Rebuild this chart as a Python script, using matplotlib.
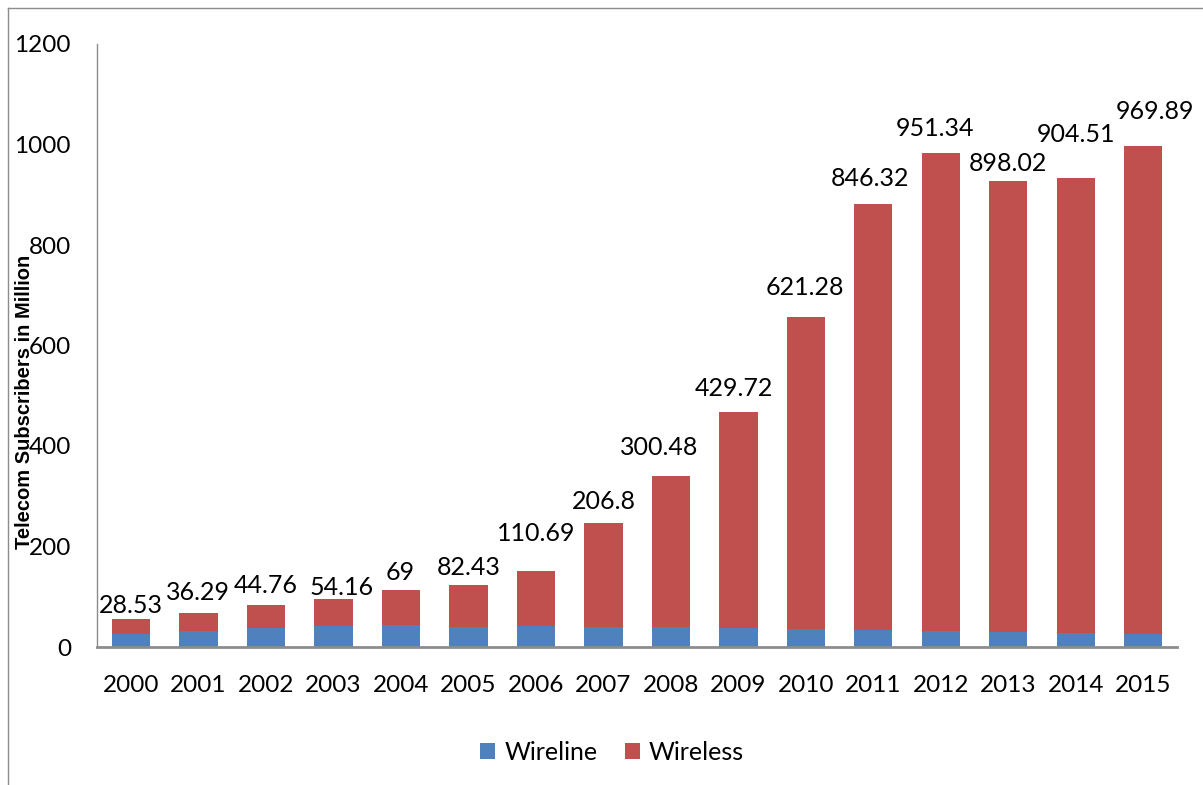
import matplotlib
matplotlib.use("Agg")
import matplotlib.pyplot as plt
from matplotlib.lines import Line2D

years = ["2000", "2001", "2002", "2003", "2004", "2005", "2006", "2007",
         "2008", "2009", "2010", "2011", "2012", "2013", "2014", "2015"]
wireline = [26.5, 32.0, 38.5, 41.0, 43.8, 40.5, 41.0, 40.2,
            39.0, 37.0, 35.8, 34.4, 32.0, 29.8, 28.0, 26.5]
wireless = [28.53, 36.29, 44.76, 54.16, 69, 82.43, 110.69, 206.8,
            300.48, 429.72, 621.28, 846.32, 951.34, 898.02, 904.51, 969.89]
wireless_labels = ["28.53", "36.29", "44.76", "54.16", "69", "82.43", "110.69", "206.8",
                   "300.48", "429.72", "621.28", "846.32", "951.34", "898.02", "904.51", "969.89"]
y_ticks = [0, 200, 400, 600, 800, 1000, 1200]

# hand-placed data label nudges (pixels: right, above bar top)
label_dx = [0, -1, 0, 8, -1, 0, 0, 0, -12, -4, -1, -3.5, -6, 0, 0, 11.5]
label_gap = [6.6, 12.7, 12.5, 4, 10, 10, 30, 14, 21, 16, 22, 18, 17, 10, 36, 27]

blue = "#4F81BD"
red = "#C0504D"
label_font = ["Lato", "DejaVu Sans"]
px = 72 / 100  # points per pixel at dpi 100

fig = plt.figure(figsize=(12.03, 7.85), dpi=100)
ax = fig.add_axes([97.3 / 1203, 1 - 647 / 785, (1177 - 97.3) / 1203, (647 - 44) / 785])

x = list(range(len(years)))
ax.bar(x, wireline, width=0.567, color=blue, label="Wireline", zorder=2)
ax.bar(x, wireless, width=0.567, bottom=wireline, color=red, label="Wireless", zorder=2)

for xi, base, val, txt, dx, gap in zip(x, wireline, wireless, wireless_labels, label_dx, label_gap):
    ax.annotate(txt, (xi, base + val), xytext=(dx * px, gap * px), textcoords="offset points",
                ha="center", va="baseline", fontsize=18, family=label_font, color="black")

ax.set_xlim(-0.5, len(years) - 0.5)
ax.set_ylim(0, 1200)
ax.set_xticks(x)
ax.set_xticklabels(years, fontsize=17.5, family=label_font)
ax.set_yticks(y_ticks)
ax.set_yticklabels([str(v) for v in y_ticks], fontsize=17.5, family=label_font)
ax.tick_params(axis="both", length=0)
ax.tick_params(axis="y", pad=19)
ax.tick_params(axis="x", pad=20)

for side in ("top", "right"):
    ax.spines[side].set_visible(False)
ax.spines["left"].set_color("#8C8C8C")
ax.spines["left"].set_linewidth(1.0)
ax.spines["bottom"].set_color("#8C8C8C")
ax.spines["bottom"].set_linewidth(2.0)

fig.text(25 / 1203, 1 - 402 / 785, "Telecom Subscribers in Million", rotation=90,
         ha="center", va="center", fontsize=14.5, fontweight="bold",
         family="Liberation Sans")

ax.legend(loc="center", bbox_to_anchor=(612 / 1203, 1 - 752 / 785), bbox_transform=fig.transFigure,
          ncol=2, frameon=False, prop={"family": label_font, "size": 18},
          handlelength=0.6, handleheight=0.6, handletextpad=0.35, columnspacing=1.1)

# outer chart-area frame (left and top edges)
fig.add_artist(Line2D([8 / 1203, 8 / 1203], [0, 1 - 8 / 785], transform=fig.transFigure,
                      color="#8C8C8C", linewidth=1.0))
fig.add_artist(Line2D([8 / 1203, 1], [1 - 8 / 785, 1 - 8 / 785], transform=fig.transFigure,
                      color="#8C8C8C", linewidth=1.0))

fig.savefig("out.png", dpi=100)
